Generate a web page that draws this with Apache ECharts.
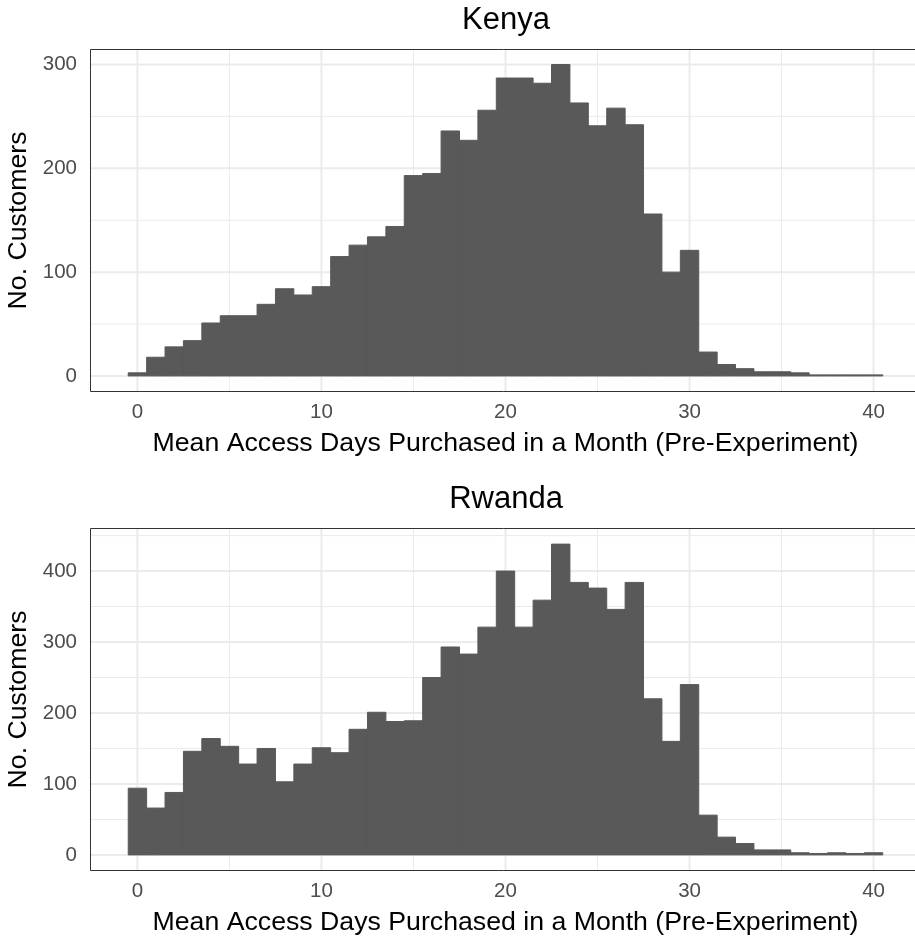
<!DOCTYPE html>
<html>
<head>
<meta charset="utf-8">
<title>Mean Access Days Purchased</title>
<script src="https://cdn.jsdelivr.net/npm/echarts@6/dist/echarts.min.js"></script>
<style>
  html, body { margin: 0; padding: 0; background: #ffffff; }
  #chart { width: 915px; height: 938px; }
</style>
</head>
<body>
<div id="chart"></div>
<script>
// Histogram bins: one bin per whole number of days, centred on the integer.
const binCenters = [
  0, 1, 2, 3, 4, 5, 6, 7, 8, 9, 10, 11, 12, 13, 14, 15, 16, 17, 18, 19, 20,
  21, 22, 23, 24, 25, 26, 27, 28, 29, 30, 31, 32, 33, 34, 35, 36, 37, 38, 39, 40
];
const binWidth = 1;

// Customer counts per bin
const kenyaCounts = [
  3, 18, 28, 34, 51, 58, 58, 69, 84, 78, 86, 115, 126, 134, 144, 193, 195, 236, 227, 256, 287,
  287, 282, 300, 263, 241, 258, 242, 156, 100, 121, 23, 11, 7, 4, 4, 3, 1, 1, 1, 1
];
const rwandaCounts = [
  94, 66, 88, 146, 164, 153, 128, 150, 103, 128, 151, 144, 177, 201, 188, 189, 250, 293, 283, 321, 400,
  321, 359, 438, 384, 376, 346, 384, 220, 160, 240, 56, 25, 16, 7, 7, 3, 2, 3, 2, 3
];

// Axis breaks
const xMajorTicks = [0, 10, 20, 30, 40];
const xMinorBreaks = [5, 15, 25, 35];
const kenyaYMajorTicks = [0, 100, 200, 300];
const kenyaYMinorBreaks = [50, 150, 250];
const rwandaYMajorTicks = [0, 100, 200, 300, 400];
const rwandaYMinorBreaks = [50, 150, 250, 350, 450];

const panelTitles = ['Kenya', 'Rwanda'];
const xTitle = 'Mean Access Days Purchased in a Month (Pre-Experiment)';
const yTitle = 'No. Customers';

const FONT = '"Liberation Sans", Arial, Helvetica, sans-serif';
const BAR_FILL = '#595959';
const GRID_COLOR = '#ebebeb';
const INK = '#333333';

function histData(counts) {
  return binCenters.map((c, i) => [c, counts[i]]);
}

// kind: 0 vertical major, 1 vertical minor, 2 horizontal major, 3 horizontal minor
function gridData(yMajor, yMinor) {
  return [].concat(
    xMajorTicks.map(v => [v, 0]),
    xMinorBreaks.map(v => [v, 1]),
    yMajor.map(v => [v, 2]),
    yMinor.map(v => [v, 3])
  );
}

function renderGridLine(params, api) {
  const v = api.value(0);
  const kind = api.value(1);
  const cs = params.coordSys;
  const major = kind === 0 || kind === 2;
  let shape;
  if (kind < 2) {
    const px = api.coord([v, 0])[0];
    shape = { x1: px, y1: cs.y, x2: px, y2: cs.y + cs.height };
  } else {
    const py = api.coord([0, v])[1];
    shape = { x1: cs.x, y1: py, x2: cs.x + cs.width, y2: py };
  }
  return {
    type: 'line',
    shape: shape,
    style: { stroke: GRID_COLOR, lineWidth: major ? 2 : 1 },
    silent: true
  };
}

function renderBin(params, api) {
  const x = api.value(0);
  const y = api.value(1);
  const top = api.coord([x - binWidth / 2, y]);
  const base = api.coord([x + binWidth / 2, 0]);
  return {
    type: 'rect',
    shape: { x: top[0], y: top[1], width: base[0] - top[0], height: base[1] - top[1] },
    style: { fill: BAR_FILL, stroke: BAR_FILL, lineWidth: 1 }
  };
}

const panels = [
  { top: 49.5, height: 342, yMin: -15, yMax: 314.5, yMajor: kenyaYMajorTicks, yMinor: kenyaYMinorBreaks, counts: kenyaCounts },
  { top: 528.5, height: 342, yMin: -22, yMax: 460, yMajor: rwandaYMajorTicks, yMinor: rwandaYMinorBreaks, counts: rwandaCounts }
];

const option = {
  animation: false,
  backgroundColor: '#ffffff',
  textStyle: { fontFamily: FONT },
  title: panels.map((p, i) => ({
    text: panelTitles[i],
    left: 506,
    top: p.top - 45,
    textAlign: 'center',
    padding: 0,
    textStyle: { fontFamily: FONT, fontSize: 31, fontWeight: 'normal', color: '#000000' }
  })),
  grid: panels.map(p => ({
    left: 90.5,
    top: p.top,
    width: 830,
    height: p.height,
    outerBoundsMode: 'none',
    containLabel: false,
    show: true,
    z: 3,
    backgroundColor: 'transparent',
    borderColor: INK,
    borderWidth: 1
  })),
  xAxis: panels.map((p, i) => ({
    type: 'value',
    gridIndex: i,
    min: -2.55,
    max: 42.55,
    position: 'bottom',
    name: xTitle,
    nameLocation: 'middle',
    nameGap: 39,
    nameMoveOverlap: false,
    nameTextStyle: { fontFamily: FONT, fontSize: 26.7, color: '#000000' },
    axisLine: { show: false },
    axisTick: { show: true, customValues: xMajorTicks, length: 6.5, lineStyle: { color: INK, width: 1 } },
    axisLabel: { show: true, customValues: xMajorTicks, margin: 10, fontFamily: FONT, fontSize: 20.5, color: '#4d4d4d' },
    splitLine: { show: false },
    minorSplitLine: { show: false }
  })),
  yAxis: panels.map((p, i) => ({
    type: 'value',
    gridIndex: i,
    min: p.yMin,
    max: p.yMax,
    name: yTitle,
    nameLocation: 'middle',
    nameRotate: 90,
    nameGap: 58,
    nameMoveOverlap: false,
    nameTextStyle: { fontFamily: FONT, fontSize: 26.7, color: '#000000' },
    axisLine: { show: false },
    axisTick: { show: true, customValues: p.yMajor, length: 6.5, lineStyle: { color: INK, width: 1 } },
    axisLabel: { show: true, customValues: p.yMajor, margin: 13.5, fontFamily: FONT, fontSize: 20.5, color: '#4d4d4d' },
    splitLine: { show: false },
    minorSplitLine: { show: false }
  })),
  series: [].concat(
    panels.map((p, i) => ({
      type: 'custom',
      name: panelTitles[i] + ' grid',
      xAxisIndex: i,
      yAxisIndex: i,
      z: 1,
      silent: true,
      renderItem: renderGridLine,
      data: gridData(p.yMajor, p.yMinor)
    })),
    panels.map((p, i) => ({
      type: 'custom',
      name: panelTitles[i],
      xAxisIndex: i,
      yAxisIndex: i,
      z: 2,
      renderItem: renderBin,
      encode: { x: 0, y: 1 },
      data: histData(p.counts)
    }))
  )
};

const chart = echarts.init(document.getElementById('chart'), null, { renderer: 'canvas' });
chart.setOption(option);
</script>
</body>
</html>
